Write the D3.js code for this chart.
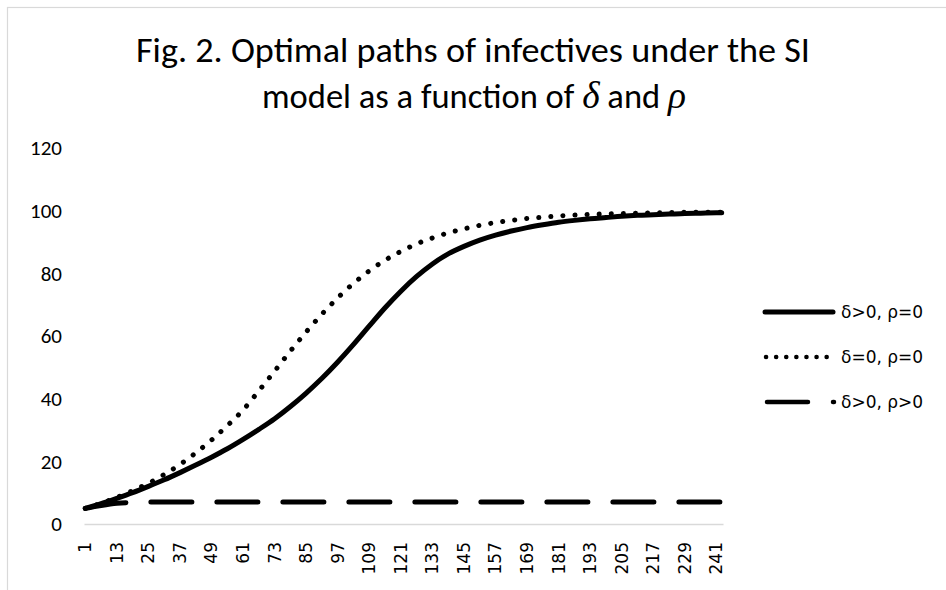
<!DOCTYPE html>
<html><head><meta charset="utf-8">
<script src="https://cdn.jsdelivr.net/npm/d3@7"></script>
<style>body{margin:0;background:#fff}svg{display:block}</style>
</head><body><svg id="c" width="946" height="590"></svg>
<script>
// ---- data ----
const categories = d3.range(1, 244);
const tickLabels = [1,13,25,37,49,61,73,85,97,109,121,133,145,157,169,181,193,205,217,229,241];
const yTicks = [0,20,40,60,80,100,120];
const sampleCats = [1,7,13,19,25,31,37,43,49,55,61,67,73,79,85,91,97,103,109,115,121,127,133,139,145,151,157,163,169,175,181,187,193,199,205,211,217,223,229,235,241,243];
const solidVals = [5.0,6.5,8.2,10.0,12.0,14.1,16.4,18.8,21.3,24.0,27.0,30.2,33.6,37.5,41.8,46.5,51.7,57.3,63.2,69.0,74.3,79.0,83.0,86.2,88.6,90.6,92.2,93.5,94.6,95.5,96.3,96.9,97.4,97.8,98.2,98.5,98.7,98.9,99.1,99.2,99.3,99.3];
const dottedVals = [5.0,6.6,8.5,10.6,13.0,15.8,19.0,22.7,26.8,31.4,36.4,42.5,48.8,55.2,61.3,67.0,72.2,76.8,80.8,84.2,87.0,89.4,91.3,92.9,94.2,95.3,96.2,96.9,97.5,97.9,98.3,98.6,98.8,99.0,99.1,99.2,99.3,99.4,99.5,99.5,99.5,99.5];
const dashedVals = [5.0,5.9,6.6,6.9,7.0,7.0,7.0,7.0,7.0,7.0,7.0,7.0,7.0,7.0,7.0,7.0,7.0,7.0,7.0,7.0,7.0,7.0,7.0,7.0,7.0,7.0,7.0,7.0,7.0,7.0,7.0,7.0,7.0,7.0,7.0,7.0,7.0,7.0,7.0,7.0,7.0,7.0];
const seriesNames = ["δ>0, ρ=0", "δ=0, ρ=0", "δ>0, ρ>0"];
const titleLine1 = "Fig. 2. Optimal paths of infectives under the SI";
const titleLine2 = [["model as a function of ", false], ["δ", true], [" and ", false], ["ρ", true]];

// ---- setup ----
const svg = d3.select("#c");
const W = 946, H = 590;
svg.append("rect").attr("x",0).attr("y",0).attr("width",W).attr("height",H).attr("fill","#fff");
svg.append("rect").attr("x",7.5).attr("y",7.5).attr("width",1200).attr("height",1200)
  .attr("fill","none").attr("stroke","#d9d9d9").attr("stroke-width",1.2);

const x = d3.scaleBand().domain(categories).range([84, 723]);
const xc = c => x(c) + x.bandwidth()/2;
const y = d3.scaleLinear().domain([0,120]).range([524,148]);

// title
const tf = "Carlito, Calibri, Lato, sans-serif";
const mf = "Liberation Serif, DejaVu Serif, serif";
svg.append("text").attr("x",473).attr("y",62).attr("text-anchor","middle")
  .attr("font-family",tf).attr("font-size",35).attr("fill","#000")
  .attr("textLength",674).attr("lengthAdjust","spacingAndGlyphs")
  .text(titleLine1);
// line 2: separate pieces, font-size fitted to the target width
const pieces = titleLine2.map(([s, it]) => {
  const t = svg.append("text").attr("y",108).attr("fill","#000")
    .attr("font-size", it ? 38 : 35)
    .attr("font-family", it ? mf : tf).attr("font-style", it ? "italic" : "normal")
    .style("white-space","pre").text(s);
  return {t, it};
});
const total0 = d3.sum(pieces, p => p.t.node().getComputedTextLength());
const k2 = 424 / total0;
pieces.forEach(p => p.t.attr("font-size", (p.it ? 38 : 35) * k2));
let cx = 474 - 212;
pieces.forEach(p => {
  p.t.attr("x", cx);
  cx += p.t.node().getComputedTextLength();
});

// y labels
svg.append("g").selectAll("text").data(yTicks).join("text")
  .attr("x",62).attr("y",d=>y(d)).attr("dy","0.35em").attr("text-anchor","end")
  .attr("font-family",tf).attr("font-size",21).attr("fill","#000")
  .text(d=>d);

// x axis
const xa = svg.append("g").attr("transform","translate(0,524)")
  .call(d3.axisBottom(x).tickValues(tickLabels).tickSize(0).tickSizeOuter(0));
xa.select(".domain").attr("stroke","#d9d9d9").attr("stroke-width",1.5);
xa.selectAll("text").attr("transform","rotate(-90)").attr("x",-18).attr("y",0)
  .attr("dy","0.35em").attr("text-anchor","end")
  .attr("font-family","DejaVu Sans, sans-serif").attr("font-size",17).attr("fill","#000");

// lines
const line = d3.line().x((d,i)=>xc(sampleCats[i])).y(d=>y(d)).curve(d3.curveMonotoneX);
const styles = [
  {vals: solidVals, dash: null},
  {vals: dottedVals, dash: "0.1,12"},
  {vals: dashedVals, dash: "41,25"}
];
[2,0,1].forEach(k=>{
  const s = styles[k];
  const p = svg.append("path").attr("d", line(s.vals)).attr("fill","none")
    .attr("stroke","#000").attr("stroke-width",5).attr("stroke-linecap","round").attr("stroke-linejoin","round");
  if (s.dash) p.attr("stroke-dasharray", s.dash);
});

// legend
const legY = [312, 357, 402];
const legDash = [null, "0.1,10", "41,25"];
const legX1 = [765, 766, 767];
const legX2 = [833, 827, 834];
seriesNames.forEach((name,i)=>{
  const l = svg.append("line").attr("x1",legX1[i]).attr("x2",legX2[i]).attr("y1",legY[i]).attr("y2",legY[i])
    .attr("stroke","#000").attr("stroke-width",i===0?5:4.5).attr("stroke-linecap","round");
  if (legDash[i]) l.attr("stroke-dasharray", legDash[i]);
  svg.append("text").attr("x",841).attr("y",legY[i]).attr("dy","0.35em")
    .attr("font-family","DejaVu Sans, sans-serif").attr("font-size",17).attr("fill","#000")
    .text(name);
});
</script></body></html>
